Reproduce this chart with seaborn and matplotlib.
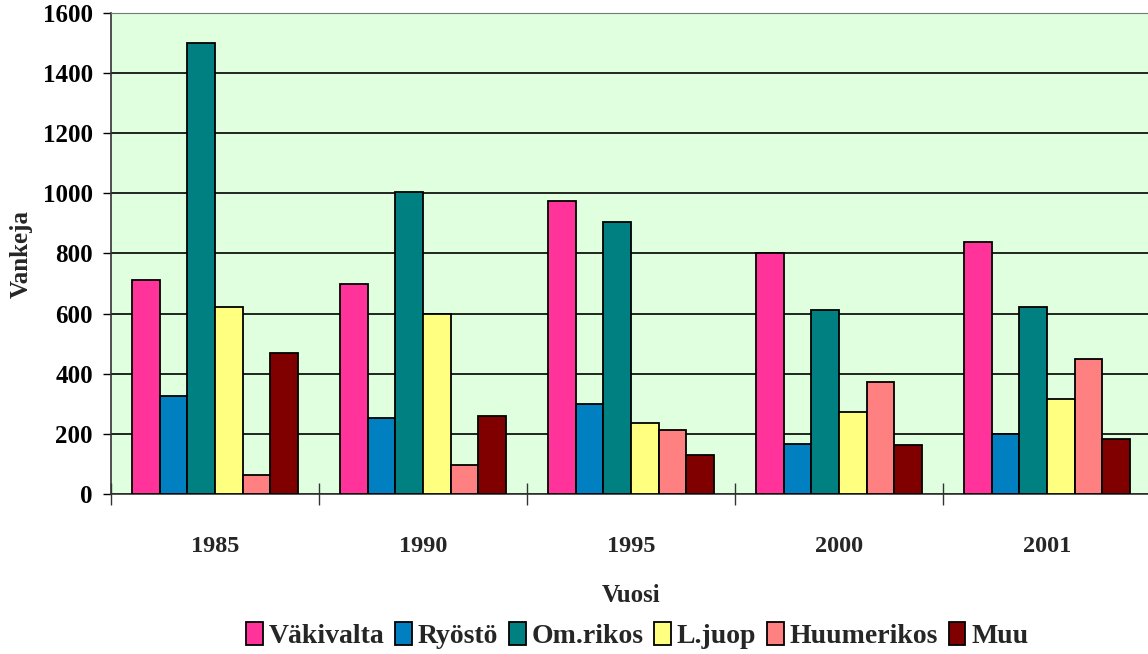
import pandas as pd
import numpy as np
import matplotlib.pyplot as plt
import seaborn as sns
from matplotlib.ticker import FixedLocator

# data
years = ['1985', '1990', '1995', '2000', '2001']
rikos = ['Väkivalta', 'Ryöstö', 'Om.rikos', 'L.juop', 'Huumerikos', 'Muu']
vakivalta = [713, 700, 973, 801, 837]
ryosto = [326, 252, 301, 167, 199]
omrikos = [1500, 1005, 904, 613, 621]
ljuop = [623, 600, 237, 274, 315]
huumerikos = [63, 96, 212, 373, 449]
muu = [470, 260, 130, 163, 182]
colors = ['#FF3399', '#0080C0', '#008080', '#FFFF80', '#FF8080', '#800000']

series = [vakivalta, ryosto, omrikos, ljuop, huumerikos, muu]
rows = []
for name, vals in zip(rikos, series):
    for y, v in zip(years, vals):
        rows.append({'Vuosi': y, 'Vankeja': v, 'Rikos': name})
df = pd.DataFrame(rows)

sns.set_style('white')
plt.rcParams['font.family'] = ['Liberation Serif', 'DejaVu Serif']
plt.rcParams['font.weight'] = 'bold'

fig = plt.figure(figsize=(11.48, 6.54), dpi=100)
ax = fig.add_axes([111/1148, 160/654, 1040/1148, 481/654])
ax.set_facecolor('#DFFFDF')

sns.barplot(data=df, x='Vuosi', y='Vankeja', hue='Rikos', hue_order=rikos,
            palette=colors, edgecolor='black', linewidth=1.3, width=0.8,
            saturation=1, ax=ax, zorder=3)

ax.set_ylim(0, 1600)
ax.set_xlim(-0.5, 4.5)
ax.set_yticks(range(0, 1601, 200))
ax.yaxis.grid(True, color='black', linewidth=1.2, zorder=0)
ax.set_axisbelow(True)

for s in ['left', 'bottom']:
    ax.spines[s].set_color('#333333')
    ax.spines[s].set_linewidth(1.2)
ax.spines['top'].set_color('#777777')
ax.spines['right'].set_visible(False)

ax.tick_params(axis='y', direction='out', length=6, width=1, pad=7,
               labelsize=18, left=True, colors='black')
ax.tick_params(axis='x', which='major', length=0, pad=30, labelsize=17.5)
ax.xaxis.set_minor_locator(FixedLocator(np.arange(-0.5, 5, 1)))
ax.tick_params(axis='x', which='minor', direction='inout', length=16,
               width=1, bottom=True, color='#333333')
for lab in ax.get_xticklabels() + ax.get_yticklabels():
    lab.set_fontweight('bold')

ax.set_xlabel('Vuosi', fontsize=18, fontweight='bold', labelpad=20)
ax.set_ylabel('Vankeja', fontsize=18, fontweight='bold', labelpad=7)

handles, labels = ax.get_legend_handles_labels()
ax.get_legend().remove()
fig.legend(handles, labels, loc='center', bbox_to_anchor=(0.555, 0.028),
           ncol=6, frameon=False, prop={'size': 20, 'weight': 'bold'},
           handlelength=0.6, handleheight=0.9, handletextpad=0.2,
           columnspacing=0.4, borderaxespad=0)

fig.savefig('out.png', dpi=100)
